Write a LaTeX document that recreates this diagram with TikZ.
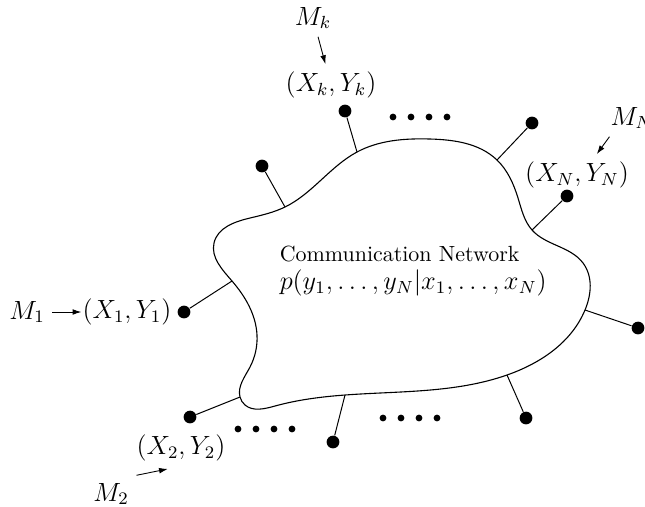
\documentclass[tikz,border=0pt]{standalone}
\usetikzlibrary{arrows.meta, hobby}

\tikzset{
    bigdot/.style={circle, fill=black, inner sep=0pt, minimum size=5.8pt},
    smalldot/.style={circle, fill=black, inner sep=0pt, minimum size=3.1pt},
    arr/.style={-{Latex[length=4pt, width=2.6pt]}, line width=0.4pt},
    wire/.style={line width=0.45pt},
    lbl/.style={font=\fontsize{11.5}{14}\selectfont}
}

\begin{document}
\begin{tikzpicture}[x=0.016cm, y=-0.016cm]
        \useasboundingbox (0,0) rectangle (645,506);

        % points on the network boundary
        \coordinate (a1) at (285,207);
        \coordinate (ak) at (357,152);
        \coordinate (atr) at (497,160);
        \coordinate (an) at (532,230);
        \coordinate (ar) at (585,310);
        \coordinate (abr) at (507,375);
        \coordinate (ab) at (345,395);
        \coordinate (a2) at (240,397);
        \coordinate (a1l) at (232,281);

        \draw[line width=0.5pt, use Hobby shortcut, closed=true]
            (a1) .. (ak) .. (430,139) .. (atr) .. (518,198) .. (an)
            .. (583,263) .. (ar) .. (abr) .. (ab) .. (275,406) .. (245,405)
            .. (a2) .. (250,367) .. (257,335) .. (a1l) .. (214,243) .. (250,218);

        \node[align=left, anchor=west] (net) at (272,271)
            {Communication Network\\[1pt]
             {\fontsize{11.5}{14}\selectfont $p(y_1,\ldots,y_N|x_1,\ldots,x_N)$}};

        % terminals
        \node[bigdot] (d0) at (262,166) {};
        \node[bigdot] (dk) at (345,111) {};
        \node[bigdot] (dtr) at (532,123) {};
        \node[bigdot] (dn) at (567,196) {};
        \node[bigdot] (dr) at (638,328) {};
        \node[bigdot] (dbr) at (526,418) {};
        \node[bigdot] (db) at (333,442) {};
        \node[bigdot] (d2) at (190,417) {};
        \node[bigdot] (d1) at (184,312) {};

        \draw[wire] (d0) -- (a1);
        \draw[wire] (dk) -- (ak);
        \draw[wire] (dtr) -- (atr);
        \draw[wire] (dn) -- (an);
        \draw[wire] (dr) -- (ar);
        \draw[wire] (dbr) -- (abr);
        \draw[wire] (db) -- (ab);
        \draw[wire] (d2) -- (a2);
        \draw[wire] (d1) -- (a1l);

        % dots
        \foreach \i in {0,...,3} {
            \node[smalldot] (t\i) at (393+18*\i,117) {};
            \node[smalldot] (l\i) at (238+18*\i,429) {};
            \node[smalldot] (r\i) at (383+18*\i,418) {};
        }

        % labels
        \node[lbl] (mk) at (313,18) {$M_k$};
        \node[lbl] (xk) at (331,85) {$(X_k,Y_k)$};
        \draw[arr] (mk) -- (xk);

        \node[lbl] (mn) at (632,118) {$M_N$};
        \node[lbl] (xn) at (577,175) {$(X_N,Y_N)$};
        \draw[arr] ([xshift=3pt]mn.south west) -- ([xshift=9pt]xn.north);

        \node[lbl] (m1) at (27,312) {$M_1$};
        \node[lbl] (x1) at (127,312) {$(X_1,Y_1)$};
        \draw[arr, shorten >=-3pt] (m1) -- (x1);

        \node[lbl] (x2) at (181,448) {$(X_2,Y_2)$};
        \node[lbl] (m2) at (111,494) {$M_2$};
        \draw[arr] (m2.north east) -- ([xshift=-6pt]x2.south);
\end{tikzpicture}
\end{document}
